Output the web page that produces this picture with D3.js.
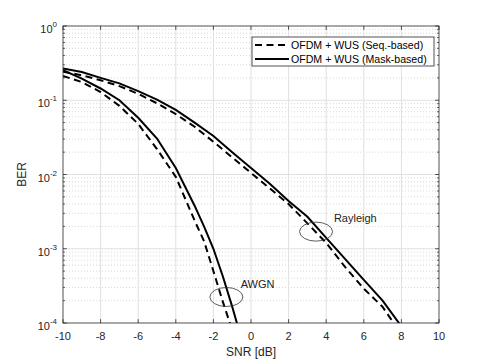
<!DOCTYPE html>
<html>
<head>
<meta charset="utf-8">
<script src="https://cdn.jsdelivr.net/npm/d3@7"></script>
<style>
  html, body { margin:0; padding:0; background:#fff; }
  svg { display:block; font-family: "Liberation Sans", Arial, sans-serif; }
</style>
</head>
<body>
<div id="chart"></div>
<script>
// BER vs SNR, OFDM + WUS, two receivers, AWGN and Rayleigh
const rayleighSnr = [-10,-9,-8,-7,-6,-5,-4,-3,-2,-1,0,1,2,3,4,5,6,7,8];
const rayleighMask = [0.268,0.24,0.20,0.169,0.133,0.102,0.074,0.050,0.033,0.020,0.0122,0.0075,0.0044,0.0027,0.0014,7.3e-4,3.8e-4,2.0e-4,9e-5];
const rayleighSeq  = [0.243,0.217,0.186,0.155,0.122,0.091,0.065,0.044,0.0276,0.017,0.0105,0.0065,0.0040,0.0022,0.0012,5.7e-4,2.9e-4,1.65e-4,7e-5];

const awgnSnr  = [-10,-9,-8,-7,-6,-5,-4,-3,-2.5,-2,-1.5,-1,-0.5];
const awgnMask = [0.255,0.195,0.144,0.10,0.058,0.0305,0.0122,0.0038,0.002,0.001,4.26e-4,1.66e-4,6e-5];
const awgnSeq  = [0.212,0.176,0.129,0.084,0.048,0.022,0.0093,0.0024,0.00127,5e-4,1.94e-4,8e-5,3e-5];

const xTicks = [-10,-8,-6,-4,-2,0,2,4,6,8,10];
const yExps = [0,-1,-2,-3,-4];

const legendLabels = ['OFDM + WUS (Seq.-based)', 'OFDM + WUS (Mask-based)'];

// annotations: [label, snr at ellipse centre, ber at ellipse centre, label snr, label ber]
const notes = [
  ['Rayleigh', 3.46, 1.7e-3, 4.41, 2.3e-3],
  ['AWGN', -1.31, 2.24e-4, -0.55, 2.95e-4]
];

(function(){
  const width = 485, height = 363;
  const margin = {top:26, right:46, bottom:40, left:63};
  const innerW = width - margin.left - margin.right;
  const innerH = height - margin.top - margin.bottom;
  const axisCol = '#262626';

  const svg = d3.select('#chart').append('svg')
    .attr('width', width)
    .attr('height', height);
  const g = svg.append('g')
    .attr('transform', `translate(${margin.left},${margin.top})`);

  const x = d3.scaleLinear().domain([-10,10]).range([0, innerW]);
  const y = d3.scaleLog().domain([1e-4,1]).range([innerH, 0]);

  // grid
  const minors = [];
  for (let e = -4; e < 0; e++) for (let m = 2; m <= 9; m++) minors.push(m * Math.pow(10, e));
  g.append('g').selectAll('line').data(minors).enter().append('line')
    .attr('x1',0).attr('x2',innerW)
    .attr('y1',d=>y(d)).attr('y2',d=>y(d))
    .attr('stroke','#bdbdbd').attr('stroke-width',0.6)
    .attr('stroke-dasharray','1,2');
  g.append('g').selectAll('line').data(yExps.slice(1,-1)).enter().append('line')
    .attr('x1',0).attr('x2',innerW)
    .attr('y1',d=>y(Math.pow(10,d))).attr('y2',d=>y(Math.pow(10,d)))
    .attr('stroke','#e0e0e0').attr('stroke-width',1);
  g.append('g').selectAll('line').data(xTicks.slice(1,-1)).enter().append('line')
    .attr('x1',d=>x(d)).attr('x2',d=>x(d))
    .attr('y1',0).attr('y2',innerH)
    .attr('stroke','#e0e0e0').attr('stroke-width',1);

  // curves
  g.append('clipPath').attr('id','clip').append('rect')
    .attr('width', innerW).attr('height', innerH);
  const line = d3.line().x(d=>x(d[0])).y(d=>y(d[1]));
  const series = [
    {xs: rayleighSnr, ys: rayleighSeq, dash: '7,4.5'},
    {xs: rayleighSnr, ys: rayleighMask, dash: null},
    {xs: awgnSnr, ys: awgnSeq, dash: '7,4.5'},
    {xs: awgnSnr, ys: awgnMask, dash: null}
  ];
  const curves = g.append('g').attr('clip-path','url(#clip)');
  series.forEach(s => {
    curves.append('path')
      .datum(s.xs.map((v,i)=>[v, s.ys[i]]))
      .attr('d', line)
      .attr('fill','none')
      .attr('stroke','#000')
      .attr('stroke-width',2)
      .attr('stroke-dasharray', s.dash);
  });

  // annotations
  notes.forEach(n => {
    g.append('ellipse')
      .attr('cx', x(n[1])).attr('cy', y(n[2]))
      .attr('rx', 16.5).attr('ry', 9.5)
      .attr('fill','none').attr('stroke','#333').attr('stroke-width',0.8);
    g.append('text')
      .attr('x', x(n[3])).attr('y', y(n[4]))
      .attr('font-size','11px').attr('fill','#222')
      .text(n[0]);
  });

  // axes box
  g.append('rect').attr('width',innerW).attr('height',innerH)
    .attr('fill','none').attr('stroke',axisCol).attr('stroke-width',0.8);

  const tk = 3.8;
  xTicks.forEach(t => {
    g.append('line').attr('x1',x(t)).attr('x2',x(t)).attr('y1',innerH).attr('y2',innerH-tk)
      .attr('stroke',axisCol).attr('stroke-width',0.8);
    g.append('line').attr('x1',x(t)).attr('x2',x(t)).attr('y1',0).attr('y2',tk)
      .attr('stroke',axisCol).attr('stroke-width',0.8);
    g.append('text').attr('x',x(t)).attr('y',innerH+17)
      .attr('text-anchor','middle').attr('font-size','11px').attr('fill',axisCol)
      .text(t);
  });
  yExps.forEach(e => {
    const yy = y(Math.pow(10,e));
    g.append('line').attr('x1',0).attr('x2',tk).attr('y1',yy).attr('y2',yy)
      .attr('stroke',axisCol).attr('stroke-width',0.8);
    g.append('line').attr('x1',innerW).attr('x2',innerW-tk).attr('y1',yy).attr('y2',yy)
      .attr('stroke',axisCol).attr('stroke-width',0.8);
    const t = g.append('text').attr('x',-6).attr('y',yy+7)
      .attr('text-anchor','end').attr('font-size','11px').attr('fill',axisCol);
    t.append('tspan').text('10');
    t.append('tspan').attr('dy',-6).attr('font-size','8px').text(e);
  });
  minors.forEach(m => {
    g.append('line').attr('x1',0).attr('x2',2).attr('y1',y(m)).attr('y2',y(m))
      .attr('stroke',axisCol).attr('stroke-width',0.7);
    g.append('line').attr('x1',innerW).attr('x2',innerW-2).attr('y1',y(m)).attr('y2',y(m))
      .attr('stroke',axisCol).attr('stroke-width',0.7);
  });

  // axis labels
  svg.append('text').attr('x', margin.left + innerW/2).attr('y', 356)
    .attr('text-anchor','middle').attr('font-size','12px').attr('fill',axisCol)
    .text('SNR [dB]');
  svg.append('text')
    .attr('transform',`translate(26,${margin.top + innerH/2}) rotate(-90)`)
    .attr('text-anchor','middle').attr('font-size','12px').attr('fill',axisCol)
    .text('BER');

  // legend
  const lg = svg.append('g').attr('transform','translate(252,37)');
  lg.append('rect').attr('width',182).attr('height',29)
    .attr('fill','#fff').attr('stroke',axisCol).attr('stroke-width',0.8);
  legendLabels.forEach((lab,i) => {
    const yy = 8 + i*14;
    lg.append('line').attr('x1',3).attr('x2',37).attr('y1',yy).attr('y2',yy)
      .attr('stroke','#000').attr('stroke-width',2)
      .attr('stroke-dasharray', i === 0 ? '7,4.5' : null);
    lg.append('text').attr('x',39).attr('y',yy+3.6)
      .attr('font-size','10.6px').attr('fill','#000')
      .text(lab);
  });
})();
</script>
</body>
</html>
